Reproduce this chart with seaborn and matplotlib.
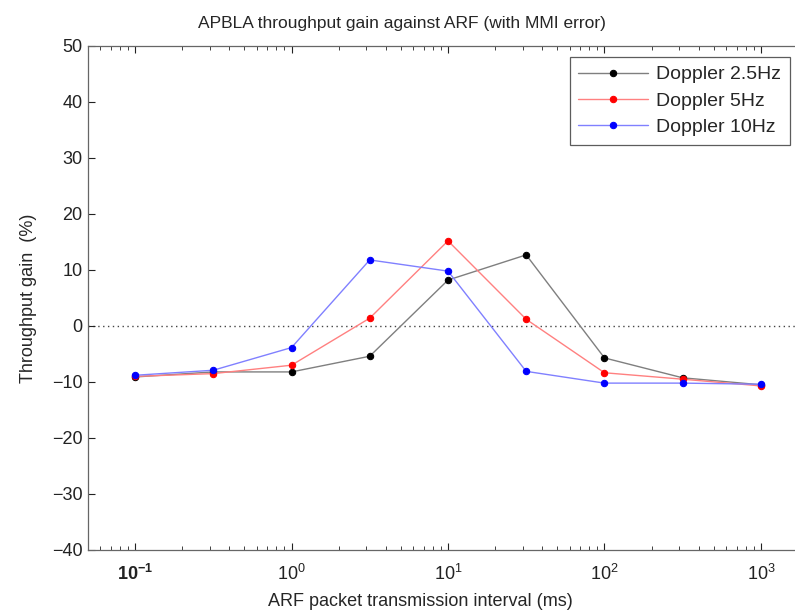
import numpy as np
import pandas as pd
import matplotlib
matplotlib.use("Agg")
import matplotlib.pyplot as plt
import matplotlib.ticker as mticker
import seaborn as sns

# ---- data ----
intervals = [0.1, 0.316, 1, 3.16, 10, 31.6, 100, 316, 1000]
doppler_25 = [-9.1, -8.2, -8.2, -5.4, 8.2, 12.7, -5.7, -9.25, -10.5]
doppler_5 = [-9.0, -8.5, -7.0, 1.4, 15.2, 1.2, -8.35, -9.5, -10.7]
doppler_10 = [-8.8, -7.9, -3.85, 11.8, 9.8, -8.1, -10.2, -10.2, -10.4]
series_names = ["Doppler 2.5Hz", "Doppler 5Hz", "Doppler 10Hz"]
xtick_vals = [0.1, 1, 10, 100, 1000]
xtick_labels = [r"$\mathbf{10^{-1}}$", r"$10^{0}$", r"$10^{1}$", r"$10^{2}$", r"$10^{3}$"]
ytick_vals = [-40, -30, -20, -10, 0, 10, 20, 30, 40, 50]

df = pd.DataFrame({
    "x": intervals * 3,
    "y": doppler_25 + doppler_5 + doppler_10,
    "series": [series_names[0]] * 9 + [series_names[1]] * 9 + [series_names[2]] * 9,
})

sns.set_style("ticks")
plt.rcParams["font.family"] = ["Liberation Sans", "DejaVu Sans"]
plt.rcParams["mathtext.fontset"] = "custom"
plt.rcParams["mathtext.rm"] = "Liberation Sans"
plt.rcParams["mathtext.it"] = "Liberation Sans:italic"
plt.rcParams["mathtext.bf"] = "Liberation Sans:bold"

line_colors = {series_names[0]: "#7f7f7f", series_names[1]: "#ff8080", series_names[2]: "#8080ff"}
marker_colors = ["#000000", "#ff0000", "#0000ff"]

fig = plt.figure(figsize=(7.95, 6.1), dpi=100)
ax = fig.add_axes([88 / 795, 60 / 610, (808 - 88) / 795, (550 - 46) / 610])

sns.lineplot(data=df, x="x", y="y", hue="series", palette=line_colors,
             marker="o", markersize=4.6, linewidth=1.0, legend=False, ax=ax)

handles = list(ax.lines[:3])
for ln, mc in zip(handles, marker_colors):
    ln.set_markerfacecolor(mc)
    ln.set_markeredgecolor(mc)

ax.axhline(0, color="#444444", linestyle=(0, (1, 2.5)), linewidth=1.0, zorder=0)

ax.set_xscale("log")
ax.set_xlim(0.05, 2000)
ax.set_ylim(-40, 50)
ax.set_xticks(xtick_vals)
ax.set_xticklabels(xtick_labels)
ax.xaxis.set_minor_locator(mticker.LogLocator(base=10, subs=np.arange(2, 10)))
ax.xaxis.set_minor_formatter(mticker.NullFormatter())
ax.set_yticks(ytick_vals)

ax.tick_params(axis="both", which="both", direction="in", top=True, right=True,
               labelsize=13, colors="#222222")
ax.tick_params(axis="x", which="major", length=5, pad=10)
ax.tick_params(axis="x", which="minor", length=3)
ax.tick_params(axis="y", which="major", length=5, pad=4)
for s in ax.spines.values():
    s.set_visible(True)
    s.set_color("#666666")
    s.set_linewidth(0.9)

ax.set_title("APBLA throughput gain against ARF (with MMI error)", fontsize=12.5,
             pad=13, x=(402 - 88) / 720)
ax.set_xlabel("ARF packet transmission interval (ms)", fontsize=13, labelpad=4)
ax.xaxis.set_label_coords((420 - 88) / 720, -0.085)
ax.set_ylabel("Throughput gain  (%)", fontsize=13, labelpad=11)

leg = ax.legend(handles, series_names, loc="upper right", bbox_to_anchor=(0.975, 0.978),
                borderaxespad=0, fontsize=14, frameon=True, fancybox=False,
                edgecolor="#333333", handlelength=3.6, handletextpad=0.4,
                borderpad=0.45, labelspacing=0.45)
leg.get_frame().set_linewidth(0.9)

fig.savefig("out.png", dpi=100)
